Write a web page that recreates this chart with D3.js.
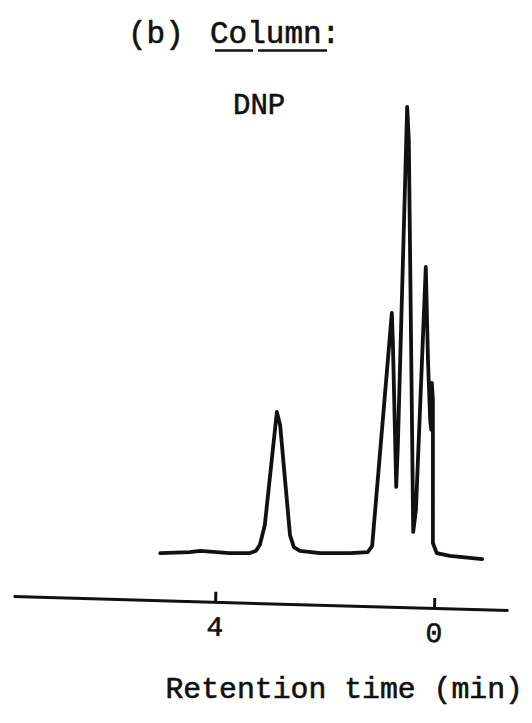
<!DOCTYPE html>
<html>
<head>
<meta charset="utf-8">
<script src="https://cdn.jsdelivr.net/npm/d3@7"></script>
<style>
  html, body { margin: 0; padding: 0; background: #fff; }
  svg { display: block; }
  text { font-family: "Liberation Mono", "DejaVu Sans Mono", monospace; fill: #111; stroke: #111; stroke-width: 0.6px; }
</style>
</head>
<body>
<svg id="chart" width="532" height="723"></svg>
<script>
// ---- data (retention time in min, detector signal in arbitrary units) ----
const retentionTime = [5.00, 4.46, 4.27, 3.73, 3.36, 3.25, 3.18, 3.09, 2.87, 2.81, 2.63, 2.56, 2.45, 2.08,
  1.53, 1.21, 1.13, 0.77, 0.75, 0.69, 0.66, 0.49, 0.46, 0.38, 0.33, 0.15, 0.11, 0.07, 0.05, 0.04, 0.02, 0.02,
  -0.05, -0.29, -0.88];
const signal = [1.5, 1.7, 2.0, 1.5, 1.5, 2.0, 3.3, 7.6, 32.2, 29.3, 5.4, 2.8, 2.0, 1.5,
  1.5, 1.7, 3.0, 53.7, 46.7, 15.9, 25.0, 98.5, 91.3, 6.1, 10.9, 63.7, 43.5, 30.4, 28.3, 38.5, 34.8, 3.7,
  1.5, 0.9, 0.2];
const tickValues = [4, 0];
const tickLabels = ["4", "0"];
const panelLabel = "(b)";
const columnLabel = "Column:";
const columnName = "DNP";
const xTitle = "Retention time (min)";

// ---- layout ----
const svg = d3.select("#chart");
const x = d3.scaleLinear().domain([4, 0]).range([215, 434]);
const y = d3.scaleLinear().domain([0, 100]).range([560, 100]);

// axis (reversed time, drawn slightly tilted like the original)
const xAxisScale = d3.scaleLinear().domain([x.invert(13), x.invert(508)]).range([13, 508]);
const axis = d3.axisBottom(xAxisScale)
  .tickValues(tickValues)
  .tickFormat((d, i) => tickLabels[i])
  .tickSizeInner(-10)
  .tickSizeOuter(0)
  .tickPadding(14);
const gAxis = svg.append("g")
  .attr("transform", "translate(0,608) rotate(1.62,434,0)")
  .call(axis);
gAxis.select(".domain").attr("stroke", "#111").attr("stroke-width", 3);
gAxis.selectAll(".tick line").attr("stroke", "#111").attr("stroke-width", 3);
gAxis.selectAll(".tick text")
  .attr("font-family", "Liberation Mono, monospace")
  .attr("font-size", 28)
  .attr("fill", "#111");

// chromatogram trace
const pts = retentionTime.map((t, i) => [t, signal[i]]);
const line = d3.line().x(d => x(d[0])).y(d => y(d[1])).curve(d3.curveLinear);
svg.append("path")
  .datum(pts)
  .attr("d", line)
  .attr("fill", "none")
  .attr("stroke", "#111")
  .attr("stroke-width", 3.8)
  .attr("stroke-linejoin", "round")
  .attr("stroke-linecap", "round");

// texts
svg.append("text").attr("x", 128).attr("y", 43).attr("font-size", 31).text(panelLabel);
svg.append("text").attr("x", 210).attr("y", 43).attr("font-size", 31).text(columnLabel);
svg.append("line").attr("x1", 215).attr("x2", 253).attr("y1", 50.5).attr("y2", 50.5)
  .attr("stroke", "#111").attr("stroke-width", 2.5);
svg.append("line").attr("x1", 258).attr("x2", 327).attr("y1", 50.5).attr("y2", 50.5)
  .attr("stroke", "#111").attr("stroke-width", 2.5);
svg.append("text").attr("x", 233).attr("y", 114).attr("font-size", 29).text(columnName);
svg.append("text").attr("x", 523).attr("y", 698).attr("text-anchor", "end")
  .attr("font-size", 29.8).text(xTitle);
</script>
</body>
</html>
